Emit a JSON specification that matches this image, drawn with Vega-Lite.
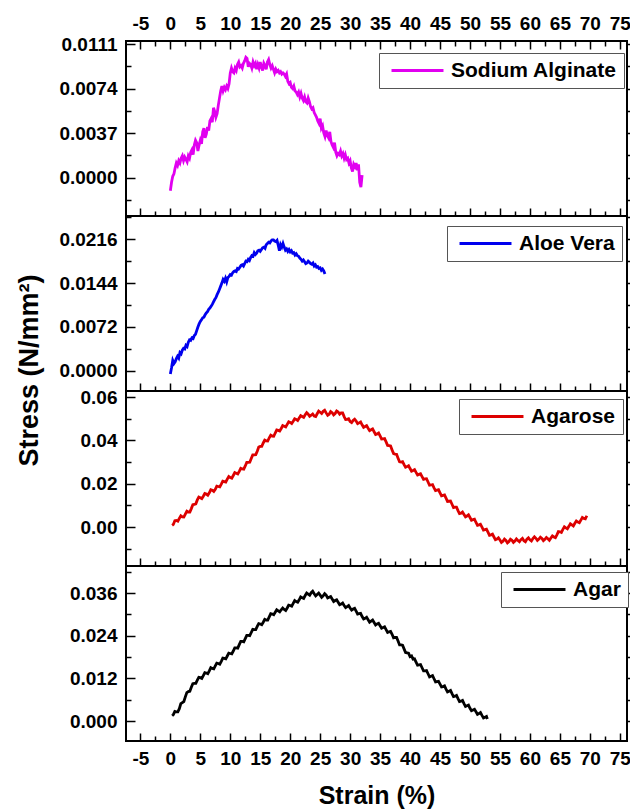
{
"$schema": "https://vega.github.io/schema/vega-lite/v6.json",
"padding": {"left": 14, "top": 13, "right": 0, "bottom": 5},
"spacing": 0,
"bounds": "flush",
"resolve": {"scale": {"color": "independent"}},
"config": {
  "font": "Liberation Sans",
  "view": {"stroke": "black", "strokeWidth": 2},
  "axis": {"domain": false, "grid": false, "labelFont": "Liberation Sans", "labelFontSize": 19, "labelFontWeight": "bold", "labelColor": "black", "tickColor": "black", "tickWidth": 1.5, "titleFont": "Liberation Sans", "titleFontWeight": "bold", "titleColor": "black", "labelFlush": false, "labelOverlap": false, "labelBound": false},
  "legend": {"symbolType": "M-3,0H3", "symbolSize": 300, "symbolStrokeWidth": 2.5, "symbolOffset": 21, "labelOffset": 23, "labelLimit": 400, "labelFont": "Liberation Sans", "labelFontSize": 21, "labelFontWeight": "bold", "labelColor": "black", "strokeColor": "#555555", "fillColor": "white", "padding": 7, "symbolFillColor": "transparent"},
  "line": {"strokeWidth": 2.8}
},
"datasets": {
"sa": [
{"x":0,"y":-0.0011},{"x":0.2,"y":-0.0004},{"x":0.4,"y":0.0001},{"x":0.6,"y":0.0003},{"x":0.8,"y":0.0008},{"x":1.0,"y":0.0012},{"x":1.2,"y":0.0010},{"x":1.4,"y":0.0014},{"x":1.6,"y":0.0012},{"x":1.8,"y":0.0016},{"x":2.0,"y":0.0018},{"x":2.2,"y":0.0014},{"x":2.4,"y":0.0017},{"x":2.6,"y":0.0015},{"x":2.8,"y":0.0013},{"x":3.0,"y":0.0018},{"x":3.2,"y":0.0016},{"x":3.4,"y":0.0021},{"x":3.6,"y":0.0023},{"x":3.8,"y":0.0019},{"x":4.0,"y":0.0027},{"x":4.2,"y":0.0031},{"x":4.4,"y":0.0029},{"x":4.6,"y":0.0022},{"x":4.8,"y":0.0027},{"x":5.0,"y":0.0031},{"x":5.2,"y":0.0028},{"x":5.4,"y":0.0038},{"x":5.6,"y":0.0041},{"x":5.8,"y":0.0033},{"x":6.0,"y":0.0036},{"x":6.2,"y":0.0042},{"x":6.4,"y":0.0039},{"x":6.6,"y":0.0047},{"x":6.8,"y":0.0049},{"x":7.0,"y":0.0046},{"x":7.2,"y":0.0058},{"x":7.4,"y":0.0055},{"x":7.6,"y":0.0050},{"x":7.8,"y":0.0053},{"x":8.0,"y":0.0060},{"x":8.2,"y":0.0066},{"x":8.4,"y":0.0072},{"x":8.6,"y":0.0076},{"x":8.8,"y":0.0072},{"x":9.0,"y":0.0075},{"x":9.2,"y":0.0073},{"x":9.4,"y":0.0076},{"x":9.6,"y":0.0074},{"x":9.8,"y":0.0078},{"x":10.0,"y":0.0087},{"x":10.2,"y":0.0091},{"x":10.4,"y":0.0088},{"x":10.6,"y":0.0087},{"x":10.8,"y":0.0091},{"x":11.0,"y":0.0089},{"x":11.2,"y":0.0094},{"x":11.4,"y":0.0096},{"x":11.6,"y":0.0092},{"x":11.8,"y":0.0093},{"x":12.0,"y":0.0091},{"x":12.2,"y":0.0095},{"x":12.4,"y":0.0097},{"x":12.6,"y":0.0100},{"x":12.8,"y":0.0099},{"x":13.0,"y":0.0092},{"x":13.2,"y":0.0095},{"x":13.4,"y":0.0094},{"x":13.6,"y":0.0091},{"x":13.8,"y":0.0096},{"x":14.0,"y":0.0093},{"x":14.2,"y":0.0095},{"x":14.4,"y":0.0090},{"x":14.6,"y":0.0094},{"x":14.8,"y":0.0091},{"x":15.0,"y":0.0096},{"x":15.2,"y":0.0092},{"x":15.4,"y":0.0089},{"x":15.6,"y":0.0095},{"x":15.8,"y":0.0093},{"x":16.0,"y":0.0090},{"x":16.2,"y":0.0096},{"x":16.4,"y":0.0098},{"x":16.6,"y":0.0094},{"x":16.8,"y":0.0091},{"x":17.0,"y":0.0093},{"x":17.2,"y":0.0090},{"x":17.4,"y":0.0087},{"x":17.6,"y":0.0090},{"x":17.8,"y":0.0088},{"x":18.0,"y":0.0089},{"x":18.2,"y":0.0087},{"x":18.4,"y":0.0088},{"x":18.6,"y":0.0086},{"x":18.8,"y":0.0087},{"x":19.0,"y":0.0086},{"x":19.2,"y":0.0084},{"x":19.4,"y":0.0086},{"x":19.6,"y":0.0080},{"x":19.8,"y":0.0078},{"x":20.0,"y":0.0079},{"x":20.2,"y":0.0075},{"x":20.4,"y":0.0074},{"x":20.6,"y":0.0076},{"x":20.8,"y":0.0072},{"x":21.0,"y":0.0071},{"x":21.2,"y":0.0069},{"x":21.4,"y":0.0071},{"x":21.6,"y":0.0067},{"x":21.8,"y":0.0070},{"x":22.0,"y":0.0066},{"x":22.2,"y":0.0064},{"x":22.4,"y":0.0067},{"x":22.6,"y":0.0063},{"x":22.8,"y":0.0062},{"x":23.0,"y":0.0066},{"x":23.2,"y":0.0063},{"x":23.4,"y":0.0059},{"x":23.6,"y":0.0057},{"x":23.8,"y":0.0058},{"x":24.0,"y":0.0054},{"x":24.2,"y":0.0052},{"x":24.4,"y":0.0050},{"x":24.6,"y":0.0047},{"x":24.8,"y":0.0045},{"x":25.0,"y":0.0049},{"x":25.2,"y":0.0041},{"x":25.4,"y":0.0043},{"x":25.6,"y":0.0037},{"x":25.8,"y":0.0034},{"x":26.0,"y":0.0039},{"x":26.2,"y":0.0035},{"x":26.4,"y":0.0033},{"x":26.6,"y":0.0038},{"x":26.8,"y":0.0030},{"x":27.0,"y":0.0027},{"x":27.2,"y":0.0025},{"x":27.4,"y":0.0029},{"x":27.6,"y":0.0021},{"x":27.8,"y":0.0018},{"x":28.0,"y":0.0020},{"x":28.2,"y":0.0019},{"x":28.4,"y":0.0022},{"x":28.6,"y":0.0018},{"x":28.8,"y":0.0020},{"x":29.0,"y":0.0016},{"x":29.2,"y":0.0019},{"x":29.4,"y":0.0015},{"x":29.6,"y":0.0016},{"x":29.8,"y":0.0012},{"x":30.0,"y":0.0014},{"x":30.2,"y":0.0008},{"x":30.4,"y":0.0005},{"x":30.6,"y":0.0011},{"x":30.8,"y":0.0009},{"x":31.0,"y":0.0012},{"x":31.2,"y":0.0006},{"x":31.4,"y":0.0011},{"x":31.6,"y":-0.0004},{"x":31.8,"y":-0.0008},{"x":32.0,"y":0.0002}
],
"av": [
{"x":0,"y":-0.0005},{"x":0.2,"y":0.0005},{"x":0.4,"y":0.0017},{"x":0.6,"y":0.0012},{"x":0.8,"y":0.0015},{"x":1.0,"y":0.0020},{"x":1.2,"y":0.0024},{"x":1.4,"y":0.0021},{"x":1.6,"y":0.0030},{"x":1.8,"y":0.0028},{"x":2.0,"y":0.0034},{"x":2.2,"y":0.0037},{"x":2.4,"y":0.0036},{"x":2.6,"y":0.0042},{"x":2.8,"y":0.0040},{"x":3.0,"y":0.0047},{"x":3.2,"y":0.0051},{"x":3.4,"y":0.0050},{"x":3.6,"y":0.0054},{"x":3.8,"y":0.0053},{"x":4.0,"y":0.0058},{"x":4.2,"y":0.0060},{"x":4.4,"y":0.0066},{"x":4.6,"y":0.0072},{"x":4.8,"y":0.0077},{"x":5.0,"y":0.0081},{"x":5.2,"y":0.0084},{"x":5.4,"y":0.0087},{"x":5.6,"y":0.0088},{"x":5.8,"y":0.0092},{"x":6.0,"y":0.0095},{"x":6.2,"y":0.0097},{"x":6.4,"y":0.0101},{"x":6.6,"y":0.0103},{"x":6.8,"y":0.0106},{"x":7.0,"y":0.0109},{"x":7.2,"y":0.0113},{"x":7.4,"y":0.0117},{"x":7.6,"y":0.0120},{"x":7.8,"y":0.0125},{"x":8.0,"y":0.0129},{"x":8.2,"y":0.0134},{"x":8.4,"y":0.0139},{"x":8.6,"y":0.0144},{"x":8.8,"y":0.0150},{"x":9.0,"y":0.0147},{"x":9.2,"y":0.0152},{"x":9.4,"y":0.0146},{"x":9.6,"y":0.0153},{"x":9.8,"y":0.0155},{"x":10.0,"y":0.0158},{"x":10.2,"y":0.0157},{"x":10.4,"y":0.0161},{"x":10.6,"y":0.0163},{"x":10.8,"y":0.0164},{"x":11.0,"y":0.0163},{"x":11.2,"y":0.0168},{"x":11.4,"y":0.0167},{"x":11.6,"y":0.0170},{"x":11.8,"y":0.0173},{"x":12.0,"y":0.0174},{"x":12.2,"y":0.0172},{"x":12.4,"y":0.0176},{"x":12.6,"y":0.0180},{"x":12.8,"y":0.0179},{"x":13.0,"y":0.0183},{"x":13.2,"y":0.0181},{"x":13.4,"y":0.0186},{"x":13.6,"y":0.0189},{"x":13.8,"y":0.0188},{"x":14.0,"y":0.0194},{"x":14.2,"y":0.0191},{"x":14.4,"y":0.0193},{"x":14.6,"y":0.0197},{"x":14.8,"y":0.0198},{"x":15.0,"y":0.0196},{"x":15.2,"y":0.0199},{"x":15.4,"y":0.0202},{"x":15.6,"y":0.0203},{"x":15.8,"y":0.0201},{"x":16.0,"y":0.0207},{"x":16.2,"y":0.0209},{"x":16.4,"y":0.0211},{"x":16.6,"y":0.0210},{"x":16.8,"y":0.0213},{"x":17.0,"y":0.0215},{"x":17.2,"y":0.0215},{"x":17.4,"y":0.0213},{"x":17.6,"y":0.0212},{"x":17.8,"y":0.0214},{"x":18.0,"y":0.0206},{"x":18.2,"y":0.0197},{"x":18.4,"y":0.0207},{"x":18.6,"y":0.0203},{"x":18.8,"y":0.0209},{"x":19.0,"y":0.0203},{"x":19.2,"y":0.0198},{"x":19.4,"y":0.0200},{"x":19.6,"y":0.0196},{"x":19.8,"y":0.0199},{"x":20.0,"y":0.0195},{"x":20.2,"y":0.0197},{"x":20.4,"y":0.0193},{"x":20.6,"y":0.0194},{"x":20.8,"y":0.0190},{"x":21.0,"y":0.0192},{"x":21.2,"y":0.0189},{"x":21.4,"y":0.0188},{"x":21.6,"y":0.0185},{"x":21.8,"y":0.0183},{"x":22.0,"y":0.0180},{"x":22.2,"y":0.0182},{"x":22.4,"y":0.0179},{"x":22.6,"y":0.0176},{"x":22.8,"y":0.0177},{"x":23.0,"y":0.0180},{"x":23.2,"y":0.0178},{"x":23.4,"y":0.0176},{"x":23.6,"y":0.0175},{"x":23.8,"y":0.0177},{"x":24.0,"y":0.0172},{"x":24.2,"y":0.0174},{"x":24.4,"y":0.0170},{"x":24.6,"y":0.0171},{"x":24.8,"y":0.0168},{"x":25.0,"y":0.0169},{"x":25.2,"y":0.0165},{"x":25.4,"y":0.0167},{"x":25.6,"y":0.0164},{"x":25.8,"y":0.0159}
],
"ar": [
{"x":0.3,"y":0.0008},{"x":0.5,"y":0.0012},{"x":0.75,"y":0.0029},{"x":1.0,"y":0.0030},{"x":1.25,"y":0.0027},{"x":1.5,"y":0.0040},{"x":1.75,"y":0.0052},{"x":2.0,"y":0.0047},{"x":2.25,"y":0.0046},{"x":2.5,"y":0.0060},{"x":2.75,"y":0.0073},{"x":3.0,"y":0.0069},{"x":3.25,"y":0.0069},{"x":3.5,"y":0.0085},{"x":3.75,"y":0.0103},{"x":4.0,"y":0.0104},{"x":4.25,"y":0.0107},{"x":4.5,"y":0.0125},{"x":4.75,"y":0.0138},{"x":5.0,"y":0.0135},{"x":5.25,"y":0.0131},{"x":5.5,"y":0.0142},{"x":5.75,"y":0.0155},{"x":6.0,"y":0.0152},{"x":6.25,"y":0.0147},{"x":6.5,"y":0.0158},{"x":6.75,"y":0.0172},{"x":7.0,"y":0.0170},{"x":7.25,"y":0.0164},{"x":7.5,"y":0.0174},{"x":7.75,"y":0.0189},{"x":8.0,"y":0.0187},{"x":8.25,"y":0.0185},{"x":8.5,"y":0.0198},{"x":8.75,"y":0.0212},{"x":9.0,"y":0.0210},{"x":9.25,"y":0.0208},{"x":9.5,"y":0.0221},{"x":9.75,"y":0.0233},{"x":10.0,"y":0.0228},{"x":10.25,"y":0.0225},{"x":10.5,"y":0.0238},{"x":10.75,"y":0.0251},{"x":11.0,"y":0.0248},{"x":11.25,"y":0.0245},{"x":11.5,"y":0.0257},{"x":11.75,"y":0.0271},{"x":12.0,"y":0.0268},{"x":12.25,"y":0.0267},{"x":12.5,"y":0.0282},{"x":12.75,"y":0.0298},{"x":13.0,"y":0.0298},{"x":13.25,"y":0.0299},{"x":13.5,"y":0.0316},{"x":13.75,"y":0.0333},{"x":14.0,"y":0.0333},{"x":14.25,"y":0.0334},{"x":14.5,"y":0.0350},{"x":14.75,"y":0.0369},{"x":15.0,"y":0.0372},{"x":15.25,"y":0.0372},{"x":15.5,"y":0.0388},{"x":15.75,"y":0.0401},{"x":16.0,"y":0.0398},{"x":16.25,"y":0.0397},{"x":16.5,"y":0.0412},{"x":16.75,"y":0.0424},{"x":17.0,"y":0.0420},{"x":17.25,"y":0.0419},{"x":17.5,"y":0.0434},{"x":17.75,"y":0.0448},{"x":18.0,"y":0.0446},{"x":18.25,"y":0.0443},{"x":18.5,"y":0.0455},{"x":18.75,"y":0.0468},{"x":19.0,"y":0.0465},{"x":19.25,"y":0.0462},{"x":19.5,"y":0.0474},{"x":19.75,"y":0.0486},{"x":20.0,"y":0.0483},{"x":20.25,"y":0.0478},{"x":20.5,"y":0.0488},{"x":20.75,"y":0.0500},{"x":21.0,"y":0.0497},{"x":21.25,"y":0.0492},{"x":21.5,"y":0.0503},{"x":21.75,"y":0.0514},{"x":22.0,"y":0.0510},{"x":22.25,"y":0.0506},{"x":22.5,"y":0.0518},{"x":22.75,"y":0.0528},{"x":23.0,"y":0.0521},{"x":23.25,"y":0.0511},{"x":23.5,"y":0.0516},{"x":23.75,"y":0.0522},{"x":24.0,"y":0.0512},{"x":24.25,"y":0.0510},{"x":24.5,"y":0.0523},{"x":24.75,"y":0.0535},{"x":25.0,"y":0.0530},{"x":25.25,"y":0.0524},{"x":25.5,"y":0.0534},{"x":25.75,"y":0.0539},{"x":26.0,"y":0.0527},{"x":26.25,"y":0.0516},{"x":26.5,"y":0.0521},{"x":26.75,"y":0.0533},{"x":27.0,"y":0.0528},{"x":27.25,"y":0.0518},{"x":27.5,"y":0.0524},{"x":27.75,"y":0.0536},{"x":28.0,"y":0.0531},{"x":28.25,"y":0.0521},{"x":28.5,"y":0.0527},{"x":28.75,"y":0.0527},{"x":29.0,"y":0.0510},{"x":29.25,"y":0.0496},{"x":29.5,"y":0.0497},{"x":29.75,"y":0.0500},{"x":30.0,"y":0.0487},{"x":30.25,"y":0.0482},{"x":30.5,"y":0.0492},{"x":30.75,"y":0.0498},{"x":31.0,"y":0.0489},{"x":31.25,"y":0.0477},{"x":31.5,"y":0.0481},{"x":31.75,"y":0.0485},{"x":32.0,"y":0.0472},{"x":32.25,"y":0.0460},{"x":32.5,"y":0.0464},{"x":32.75,"y":0.0468},{"x":33.0,"y":0.0456},{"x":33.25,"y":0.0445},{"x":33.5,"y":0.0449},{"x":33.75,"y":0.0453},{"x":34.0,"y":0.0440},{"x":34.25,"y":0.0427},{"x":34.5,"y":0.0430},{"x":34.75,"y":0.0434},{"x":35.0,"y":0.0421},{"x":35.25,"y":0.0406},{"x":35.5,"y":0.0407},{"x":35.75,"y":0.0408},{"x":36.0,"y":0.0393},{"x":36.25,"y":0.0377},{"x":36.5,"y":0.0376},{"x":36.75,"y":0.0374},{"x":37.0,"y":0.0356},{"x":37.25,"y":0.0339},{"x":37.5,"y":0.0337},{"x":37.75,"y":0.0336},{"x":38.0,"y":0.0318},{"x":38.25,"y":0.0301},{"x":38.5,"y":0.0300},{"x":38.75,"y":0.0302},{"x":39.0,"y":0.0288},{"x":39.25,"y":0.0276},{"x":39.5,"y":0.0279},{"x":39.75,"y":0.0283},{"x":40.0,"y":0.0270},{"x":40.25,"y":0.0258},{"x":40.5,"y":0.0261},{"x":40.75,"y":0.0265},{"x":41.0,"y":0.0252},{"x":41.25,"y":0.0240},{"x":41.5,"y":0.0243},{"x":41.75,"y":0.0246},{"x":42.0,"y":0.0233},{"x":42.25,"y":0.0220},{"x":42.5,"y":0.0222},{"x":42.75,"y":0.0223},{"x":43.0,"y":0.0208},{"x":43.25,"y":0.0193},{"x":43.5,"y":0.0194},{"x":43.75,"y":0.0196},{"x":44.0,"y":0.0181},{"x":44.25,"y":0.0168},{"x":44.5,"y":0.0170},{"x":44.75,"y":0.0172},{"x":45.0,"y":0.0158},{"x":45.25,"y":0.0144},{"x":45.5,"y":0.0146},{"x":45.75,"y":0.0148},{"x":46.0,"y":0.0133},{"x":46.25,"y":0.0118},{"x":46.5,"y":0.0119},{"x":46.75,"y":0.0120},{"x":47.0,"y":0.0105},{"x":47.25,"y":0.0090},{"x":47.5,"y":0.0092},{"x":47.75,"y":0.0092},{"x":48.0,"y":0.0076},{"x":48.25,"y":0.0062},{"x":48.5,"y":0.0064},{"x":48.75,"y":0.0069},{"x":49.0,"y":0.0058},{"x":49.25,"y":0.0047},{"x":49.5,"y":0.0051},{"x":49.75,"y":0.0056},{"x":50.0,"y":0.0044},{"x":50.25,"y":0.0031},{"x":50.5,"y":0.0034},{"x":50.75,"y":0.0036},{"x":51.0,"y":0.0021},{"x":51.25,"y":0.0008},{"x":51.5,"y":0.0010},{"x":51.75,"y":0.0013},{"x":52.0,"y":0.0000},{"x":52.25,"y":-0.0014},{"x":52.5,"y":-0.0012},{"x":52.75,"y":-0.0010},{"x":53.0,"y":-0.0024},{"x":53.25,"y":-0.0038},{"x":53.5,"y":-0.0036},{"x":53.75,"y":-0.0033},{"x":54.0,"y":-0.0046},{"x":54.25,"y":-0.0059},{"x":54.5,"y":-0.0056},{"x":54.75,"y":-0.0050},{"x":55.0,"y":-0.0060},{"x":55.25,"y":-0.0071},{"x":55.5,"y":-0.0066},{"x":55.75,"y":-0.0056},{"x":56.0,"y":-0.0062},{"x":56.25,"y":-0.0073},{"x":56.5,"y":-0.0067},{"x":56.75,"y":-0.0056},{"x":57.0,"y":-0.0061},{"x":57.25,"y":-0.0071},{"x":57.5,"y":-0.0065},{"x":57.75,"y":-0.0055},{"x":58.0,"y":-0.0062},{"x":58.25,"y":-0.0068},{"x":58.5,"y":-0.0058},{"x":58.75,"y":-0.0052},{"x":59.0,"y":-0.0063},{"x":59.25,"y":-0.0068},{"x":59.5,"y":-0.0056},{"x":59.75,"y":-0.0050},{"x":60.0,"y":-0.0059},{"x":60.25,"y":-0.0064},{"x":60.5,"y":-0.0053},{"x":60.75,"y":-0.0045},{"x":61.0,"y":-0.0052},{"x":61.25,"y":-0.0062},{"x":61.5,"y":-0.0056},{"x":61.75,"y":-0.0047},{"x":62.0,"y":-0.0053},{"x":62.25,"y":-0.0063},{"x":62.5,"y":-0.0057},{"x":62.75,"y":-0.0048},{"x":63.0,"y":-0.0054},{"x":63.25,"y":-0.0061},{"x":63.5,"y":-0.0051},{"x":63.75,"y":-0.0041},{"x":64.0,"y":-0.0046},{"x":64.25,"y":-0.0049},{"x":64.5,"y":-0.0036},{"x":64.75,"y":-0.0021},{"x":65.0,"y":-0.0022},{"x":65.25,"y":-0.0025},{"x":65.5,"y":-0.0011},{"x":65.75,"y":0.0001},{"x":66.0,"y":-0.0004},{"x":66.25,"y":-0.0008},{"x":66.5,"y":0.0003},{"x":66.75,"y":0.0015},{"x":67.0,"y":0.0010},{"x":67.25,"y":0.0005},{"x":67.5,"y":0.0017},{"x":67.75,"y":0.0028},{"x":68.0,"y":0.0023},{"x":68.25,"y":0.0020},{"x":68.5,"y":0.0032},{"x":68.75,"y":0.0044},{"x":69.0,"y":0.0040},{"x":69.25,"y":0.0038},{"x":69.5,"y":0.0052}
],
"ag": [
{"x":0.3,"y":0.0015},{"x":0.5,"y":0.0018},{"x":0.75,"y":0.0027},{"x":1.0,"y":0.0026},{"x":1.25,"y":0.0026},{"x":1.5,"y":0.0035},{"x":1.75,"y":0.0049},{"x":2.0,"y":0.0052},{"x":2.25,"y":0.0055},{"x":2.5,"y":0.0068},{"x":2.75,"y":0.0080},{"x":3.0,"y":0.0083},{"x":3.25,"y":0.0084},{"x":3.5,"y":0.0095},{"x":3.75,"y":0.0105},{"x":4.0,"y":0.0106},{"x":4.25,"y":0.0106},{"x":4.5,"y":0.0115},{"x":4.75,"y":0.0123},{"x":5.0,"y":0.0122},{"x":5.25,"y":0.0120},{"x":5.5,"y":0.0128},{"x":5.75,"y":0.0136},{"x":6.0,"y":0.0135},{"x":6.25,"y":0.0133},{"x":6.5,"y":0.0141},{"x":6.75,"y":0.0150},{"x":7.0,"y":0.0148},{"x":7.25,"y":0.0147},{"x":7.5,"y":0.0155},{"x":7.75,"y":0.0163},{"x":8.0,"y":0.0162},{"x":8.25,"y":0.0160},{"x":8.5,"y":0.0168},{"x":8.75,"y":0.0177},{"x":9.0,"y":0.0176},{"x":9.25,"y":0.0175},{"x":9.5,"y":0.0183},{"x":9.75,"y":0.0191},{"x":10.0,"y":0.0190},{"x":10.25,"y":0.0189},{"x":10.5,"y":0.0197},{"x":10.75,"y":0.0206},{"x":11.0,"y":0.0206},{"x":11.25,"y":0.0205},{"x":11.5,"y":0.0215},{"x":11.75,"y":0.0224},{"x":12.0,"y":0.0224},{"x":12.25,"y":0.0223},{"x":12.5,"y":0.0232},{"x":12.75,"y":0.0241},{"x":13.0,"y":0.0241},{"x":13.25,"y":0.0240},{"x":13.5,"y":0.0249},{"x":13.75,"y":0.0258},{"x":14.0,"y":0.0257},{"x":14.25,"y":0.0257},{"x":14.5,"y":0.0266},{"x":14.75,"y":0.0274},{"x":15.0,"y":0.0273},{"x":15.25,"y":0.0271},{"x":15.5,"y":0.0278},{"x":15.75,"y":0.0286},{"x":16.0,"y":0.0284},{"x":16.25,"y":0.0284},{"x":16.5,"y":0.0293},{"x":16.75,"y":0.0302},{"x":17.0,"y":0.0301},{"x":17.25,"y":0.0299},{"x":17.5,"y":0.0306},{"x":17.75,"y":0.0313},{"x":18.0,"y":0.0310},{"x":18.25,"y":0.0307},{"x":18.5,"y":0.0313},{"x":18.75,"y":0.0318},{"x":19.0,"y":0.0314},{"x":19.25,"y":0.0311},{"x":19.5,"y":0.0318},{"x":19.75,"y":0.0326},{"x":20.0,"y":0.0325},{"x":20.25,"y":0.0323},{"x":20.5,"y":0.0331},{"x":20.75,"y":0.0339},{"x":21.0,"y":0.0336},{"x":21.25,"y":0.0334},{"x":21.5,"y":0.0341},{"x":21.75,"y":0.0349},{"x":22.0,"y":0.0347},{"x":22.25,"y":0.0345},{"x":22.5,"y":0.0353},{"x":22.75,"y":0.0360},{"x":23.0,"y":0.0357},{"x":23.25,"y":0.0354},{"x":23.5,"y":0.0361},{"x":23.75,"y":0.0365},{"x":24.0,"y":0.0358},{"x":24.25,"y":0.0352},{"x":24.5,"y":0.0356},{"x":24.75,"y":0.0360},{"x":25.0,"y":0.0354},{"x":25.25,"y":0.0348},{"x":25.5,"y":0.0352},{"x":25.75,"y":0.0358},{"x":26.0,"y":0.0354},{"x":26.25,"y":0.0346},{"x":26.5,"y":0.0348},{"x":26.75,"y":0.0350},{"x":27.0,"y":0.0343},{"x":27.25,"y":0.0336},{"x":27.5,"y":0.0339},{"x":27.75,"y":0.0341},{"x":28.0,"y":0.0334},{"x":28.25,"y":0.0327},{"x":28.5,"y":0.0329},{"x":28.75,"y":0.0332},{"x":29.0,"y":0.0325},{"x":29.25,"y":0.0319},{"x":29.5,"y":0.0322},{"x":29.75,"y":0.0325},{"x":30.0,"y":0.0318},{"x":30.25,"y":0.0312},{"x":30.5,"y":0.0315},{"x":30.75,"y":0.0317},{"x":31.0,"y":0.0309},{"x":31.25,"y":0.0301},{"x":31.5,"y":0.0302},{"x":31.75,"y":0.0303},{"x":32.0,"y":0.0294},{"x":32.25,"y":0.0287},{"x":32.5,"y":0.0289},{"x":32.75,"y":0.0292},{"x":33.0,"y":0.0285},{"x":33.25,"y":0.0278},{"x":33.5,"y":0.0281},{"x":33.75,"y":0.0284},{"x":34.0,"y":0.0277},{"x":34.25,"y":0.0270},{"x":34.5,"y":0.0273},{"x":34.75,"y":0.0275},{"x":35.0,"y":0.0268},{"x":35.25,"y":0.0261},{"x":35.5,"y":0.0263},{"x":35.75,"y":0.0265},{"x":36.0,"y":0.0257},{"x":36.25,"y":0.0249},{"x":36.5,"y":0.0251},{"x":36.75,"y":0.0252},{"x":37.0,"y":0.0244},{"x":37.25,"y":0.0234},{"x":37.5,"y":0.0235},{"x":37.75,"y":0.0235},{"x":38.0,"y":0.0225},{"x":38.25,"y":0.0214},{"x":38.5,"y":0.0214},{"x":38.75,"y":0.0213},{"x":39.0,"y":0.0203},{"x":39.25,"y":0.0193},{"x":39.5,"y":0.0192},{"x":39.75,"y":0.0191},{"x":40.0,"y":0.0181},{"x":40.25,"y":0.0183},{"x":40.5,"y":0.0174},{"x":40.75,"y":0.0175},{"x":41.0,"y":0.0166},{"x":41.25,"y":0.0157},{"x":41.5,"y":0.0158},{"x":41.75,"y":0.0159},{"x":42.0,"y":0.0150},{"x":42.25,"y":0.0141},{"x":42.5,"y":0.0141},{"x":42.75,"y":0.0142},{"x":43.0,"y":0.0133},{"x":43.25,"y":0.0124},{"x":43.5,"y":0.0126},{"x":43.75,"y":0.0128},{"x":44.0,"y":0.0119},{"x":44.25,"y":0.0110},{"x":44.5,"y":0.0111},{"x":44.75,"y":0.0112},{"x":45.0,"y":0.0104},{"x":45.25,"y":0.0096},{"x":45.5,"y":0.0097},{"x":45.75,"y":0.0099},{"x":46.0,"y":0.0090},{"x":46.25,"y":0.0082},{"x":46.5,"y":0.0084},{"x":46.75,"y":0.0086},{"x":47.0,"y":0.0077},{"x":47.25,"y":0.0069},{"x":47.5,"y":0.0070},{"x":47.75,"y":0.0072},{"x":48.0,"y":0.0063},{"x":48.25,"y":0.0055},{"x":48.5,"y":0.0056},{"x":48.75,"y":0.0058},{"x":49.0,"y":0.0049},{"x":49.25,"y":0.0041},{"x":49.5,"y":0.0043},{"x":49.75,"y":0.0045},{"x":50.0,"y":0.0036},{"x":50.25,"y":0.0029},{"x":50.5,"y":0.0031},{"x":50.75,"y":0.0033},{"x":51.0,"y":0.0026},{"x":51.25,"y":0.0019},{"x":51.5,"y":0.0021},{"x":51.75,"y":0.0024},{"x":52.0,"y":0.0016},{"x":52.25,"y":0.0009},{"x":52.5,"y":0.0011},{"x":52.75,"y":0.0013},{"x":52.9,"y":0.0006}
]
},
"vconcat": [
{
 "width": 501, "height": 175,
 "data": {"name": "sa"},
 "resolve": {"axis": {"x": "independent", "y": "independent"}},
 "layer": [
  {"mark": {"type": "line", "strokeWidth": 2.8},
   "encoding": {
    "x": {"field": "x", "type": "quantitative", "scale": {"domain": [-7.4, 76.2], "nice": false, "zero": false}, "axis": {"orient": "bottom", "values": [-5,0,5,10,15,20,25,30,35,40,45,50,55,60,65,70,75], "labels": false, "tickSize": -8, "title": null}},
    "y": {"field": "y", "type": "quantitative", "scale": {"domain": [-0.0032, 0.01135], "nice": false, "zero": false}, "axis": {"orient": "left", "values": [0, 0.0037, 0.0074, 0.0111], "format": ".4f", "tickSize": -9, "labelPadding": 18, "title": null}},
    "color": {"datum": "Sodium Alginate", "type": "nominal", "scale": {"domain": ["Sodium Alginate"], "range": ["#E100F0"]}, "legend": {"orient": "none", "legendX": 253, "legendY": 12, "title": null}}
   }},
  {"mark": {"type": "line", "opacity": 0},
   "encoding": {
    "x": {"field": "x", "type": "quantitative", "scale": {"domain": [-7.4, 76.2], "nice": false, "zero": false}, "axis": {"orient": "bottom", "values": [-2.5,2.5,7.5,12.5,17.5,22.5,27.5,32.5,37.5,42.5,47.5,52.5,57.5,62.5,67.5,72.5], "labels": false, "tickSize": -5, "title": null}},
    "y": {"field": "y", "type": "quantitative", "scale": {"domain": [-0.0032, 0.01135], "nice": false, "zero": false}, "axis": {"orient": "left", "values": [-0.00185, 0.00185, 0.00555, 0.00925], "labels": false, "tickSize": -5, "title": null}}
   }},
  {"mark": {"type": "line", "opacity": 0},
   "encoding": {
    "x": {"field": "x", "type": "quantitative", "scale": {"domain": [-7.4, 76.2], "nice": false, "zero": false}, "axis": {"orient": "top", "values": [-5,0,5,10,15,20,25,30,35,40,45,50,55,60,65,70,75], "labelExpr": "datum.value < 0 ? '-' + abs(datum.value) : datum.label", "tickSize": -8, "labelPadding": 16, "title": null}},
    "y": {"field": "y", "type": "quantitative", "scale": {"domain": [-0.0032, 0.01135], "nice": false, "zero": false}, "axis": {"orient": "right", "values": [-0.00185, 0, 0.00185, 0.0037, 0.00555, 0.0074, 0.00925, 0.0111], "labels": false, "tickSize": 3, "title": null}}
   }},
  {"mark": {"type": "line", "opacity": 0},
   "encoding": {
    "x": {"field": "x", "type": "quantitative", "scale": {"domain": [-7.4, 76.2], "nice": false, "zero": false}, "axis": {"orient": "top", "values": [-2.5,2.5,7.5,12.5,17.5,22.5,27.5,32.5,37.5,42.5,47.5,52.5,57.5,62.5,67.5,72.5], "labels": false, "tickSize": -5, "title": null}},
    "y": {"field": "y", "type": "quantitative", "scale": {"domain": [-0.0032, 0.01135], "nice": false, "zero": false}, "axis": null}
   }}
 ]
},
{
 "width": 501, "height": 175,
 "data": {"name": "av"},
 "resolve": {"axis": {"x": "independent", "y": "independent"}},
 "layer": [
  {"mark": {"type": "line", "strokeWidth": 2.8},
   "encoding": {
    "x": {"field": "x", "type": "quantitative", "scale": {"domain": [-7.4, 76.2], "nice": false, "zero": false}, "axis": {"orient": "bottom", "values": [-5,0,5,10,15,20,25,30,35,40,45,50,55,60,65,70,75], "labels": false, "tickSize": -8, "title": null}},
    "y": {"field": "y", "type": "quantitative", "scale": {"domain": [-0.0033, 0.0254], "nice": false, "zero": false}, "axis": {"orient": "left", "values": [0, 0.0072, 0.0144, 0.0216], "format": ".4f", "tickSize": -9, "labelPadding": 18, "title": "Stress (N/mm²)", "titleFontSize": 27, "titleX": -97, "titleY": 154, "titleAngle": -90, "titleAlign": "center", "titleBaseline": "middle"}},
    "color": {"datum": "Aloe Vera", "type": "nominal", "scale": {"domain": ["Aloe Vera"], "range": ["#0000EE"]}, "legend": {"orient": "none", "legendX": 321, "legendY": 10, "title": null}}
   }},
  {"mark": {"type": "line", "opacity": 0},
   "encoding": {
    "x": {"field": "x", "type": "quantitative", "scale": {"domain": [-7.4, 76.2], "nice": false, "zero": false}, "axis": {"orient": "bottom", "values": [-2.5,2.5,7.5,12.5,17.5,22.5,27.5,32.5,37.5,42.5,47.5,52.5,57.5,62.5,67.5,72.5], "labels": false, "tickSize": -5, "title": null}},
    "y": {"field": "y", "type": "quantitative", "scale": {"domain": [-0.0033, 0.0254], "nice": false, "zero": false}, "axis": {"orient": "left", "values": [0.0036, 0.0108, 0.018, 0.0252], "labels": false, "tickSize": -5, "title": null}}
   }},
  {"mark": {"type": "line", "opacity": 0},
   "encoding": {
    "x": {"field": "x", "type": "quantitative", "scale": {"domain": [-7.4, 76.2], "nice": false, "zero": false}, "axis": null},
    "y": {"field": "y", "type": "quantitative", "scale": {"domain": [-0.0033, 0.0254], "nice": false, "zero": false}, "axis": {"orient": "right", "values": [0, 0.0036, 0.0072, 0.0108, 0.0144, 0.018, 0.0216, 0.0252], "labels": false, "tickSize": 3, "title": null}}
   }}
 ]
},
{
 "width": 501, "height": 175,
 "data": {"name": "ar"},
 "resolve": {"axis": {"x": "independent", "y": "independent"}},
 "layer": [
  {"mark": {"type": "line", "strokeWidth": 2.8},
   "encoding": {
    "x": {"field": "x", "type": "quantitative", "scale": {"domain": [-7.4, 76.2], "nice": false, "zero": false}, "axis": {"orient": "bottom", "values": [-5,0,5,10,15,20,25,30,35,40,45,50,55,60,65,70,75], "labels": false, "tickSize": -8, "title": null}},
    "y": {"field": "y", "type": "quantitative", "scale": {"domain": [-0.018, 0.0628], "nice": false, "zero": false}, "axis": {"orient": "left", "values": [0, 0.02, 0.04, 0.06], "format": ".2f", "tickSize": -9, "labelPadding": 18, "title": null}},
    "color": {"datum": "Agarose", "type": "nominal", "scale": {"domain": ["Agarose"], "range": ["#DD0000"]}, "legend": {"orient": "none", "legendX": 333, "legendY": 8, "title": null}}
   }},
  {"mark": {"type": "line", "opacity": 0},
   "encoding": {
    "x": {"field": "x", "type": "quantitative", "scale": {"domain": [-7.4, 76.2], "nice": false, "zero": false}, "axis": {"orient": "bottom", "values": [-2.5,2.5,7.5,12.5,17.5,22.5,27.5,32.5,37.5,42.5,47.5,52.5,57.5,62.5,67.5,72.5], "labels": false, "tickSize": -5, "title": null}},
    "y": {"field": "y", "type": "quantitative", "scale": {"domain": [-0.018, 0.0628], "nice": false, "zero": false}, "axis": {"orient": "left", "values": [-0.01, 0.01, 0.03, 0.05], "labels": false, "tickSize": -5, "title": null}}
   }},
  {"mark": {"type": "line", "opacity": 0},
   "encoding": {
    "x": {"field": "x", "type": "quantitative", "scale": {"domain": [-7.4, 76.2], "nice": false, "zero": false}, "axis": null},
    "y": {"field": "y", "type": "quantitative", "scale": {"domain": [-0.018, 0.0628], "nice": false, "zero": false}, "axis": {"orient": "right", "values": [-0.01, 0, 0.01, 0.02, 0.03, 0.04, 0.05, 0.06], "labels": false, "tickSize": 3, "title": null}}
   }}
 ]
},
{
 "width": 501, "height": 175,
 "data": {"name": "ag"},
 "resolve": {"axis": {"x": "independent", "y": "independent"}},
 "layer": [
  {"mark": {"type": "line", "strokeWidth": 2.8},
   "encoding": {
    "x": {"field": "x", "type": "quantitative", "scale": {"domain": [-7.4, 76.2], "nice": false, "zero": false}, "axis": {"orient": "bottom", "values": [-5,0,5,10,15,20,25,30,35,40,45,50,55,60,65,70,75], "labelExpr": "datum.value < 0 ? '-' + abs(datum.value) : datum.label", "tickSize": -8, "labelPadding": 16, "title": "Strain (%)", "titleFontSize": 25, "titlePadding": 15}},
    "y": {"field": "y", "type": "quantitative", "scale": {"domain": [-0.0056, 0.0436], "nice": false, "zero": false}, "axis": {"orient": "left", "values": [0, 0.012, 0.024, 0.036], "format": ".3f", "tickSize": -9, "labelPadding": 18, "title": null}},
    "color": {"datum": "Agar", "type": "nominal", "scale": {"domain": ["Agar"], "range": ["#000000"]}, "legend": {"orient": "none", "legendX": 375, "legendY": 6, "title": null}}
   }},
  {"mark": {"type": "line", "opacity": 0},
   "encoding": {
    "x": {"field": "x", "type": "quantitative", "scale": {"domain": [-7.4, 76.2], "nice": false, "zero": false}, "axis": {"orient": "bottom", "values": [-2.5,2.5,7.5,12.5,17.5,22.5,27.5,32.5,37.5,42.5,47.5,52.5,57.5,62.5,67.5,72.5], "labels": false, "tickSize": -5, "title": null}},
    "y": {"field": "y", "type": "quantitative", "scale": {"domain": [-0.0056, 0.0436], "nice": false, "zero": false}, "axis": {"orient": "left", "values": [0.006, 0.018, 0.03, 0.042], "labels": false, "tickSize": -5, "title": null}}
   }},
  {"mark": {"type": "line", "opacity": 0},
   "encoding": {
    "x": {"field": "x", "type": "quantitative", "scale": {"domain": [-7.4, 76.2], "nice": false, "zero": false}, "axis": null},
    "y": {"field": "y", "type": "quantitative", "scale": {"domain": [-0.0056, 0.0436], "nice": false, "zero": false}, "axis": {"orient": "right", "values": [0, 0.006, 0.012, 0.018, 0.024, 0.03, 0.036, 0.042], "labels": false, "tickSize": 3, "title": null}}
   }}
 ]
}
]
}
